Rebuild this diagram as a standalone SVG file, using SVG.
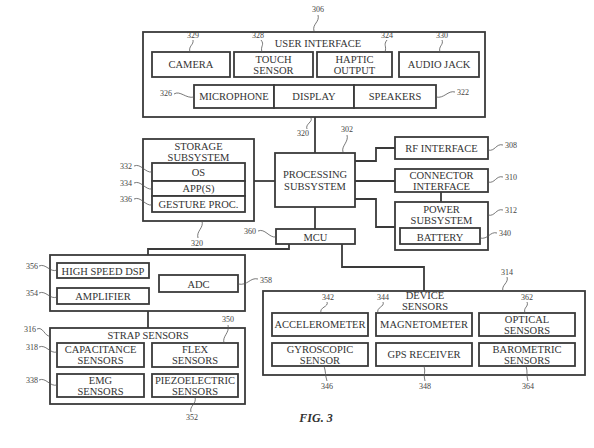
<svg xmlns="http://www.w3.org/2000/svg" width="594" height="448" viewBox="0 0 594 448">
<style>
.b{fill:#fff;stroke:#3a3a3a;stroke-width:1.8}
.c{fill:none;stroke:#3a3a3a;stroke-width:1.8}
.q{fill:none;stroke:#555;stroke-width:0.8}
.t{font-family:"Liberation Serif","Times New Roman",serif;font-size:10.5px;fill:#333;text-anchor:middle}
.n{font-family:"Liberation Serif","Times New Roman",serif;font-size:8px;fill:#444;text-anchor:middle}
.ne{text-anchor:end}
.ns{text-anchor:start}
.f{font-family:"Liberation Serif","Times New Roman",serif;font-size:12px;font-weight:bold;font-style:italic;fill:#333;text-anchor:middle}
</style>
<rect width="594" height="448" fill="#fff"/>
<g id="connectors">
<path class="c" d="M315,117V153"/>
<path class="c" d="M254,181H275"/>
<path class="c" d="M355,161H376V148H395"/>
<path class="c" d="M355,181H395"/>
<path class="c" d="M441,192V202"/>
<path class="c" d="M355,199H376V227H395"/>
<path class="c" d="M315,207V229"/>
<path class="c" d="M289,244V249H148V255"/>
<path class="c" d="M342,244V267H424V291"/>
<path class="c" d="M148,311V328"/>
</g>
<g id="user-interface">
<rect class="b" x="143" y="32" width="342" height="85"/>
<text class="t" x="318" y="47">USER INTERFACE</text>
<g id="camera"><rect class="b" x="152" y="52" width="78" height="25"/><text class="t" x="191" y="68">CAMERA</text></g>
<g id="touch-sensor"><rect class="b" x="234" y="52" width="79" height="25"/><text class="t" x="273.500" y="63">TOUCH</text><text class="t" x="273.500" y="74">SENSOR</text></g>
<g id="haptic-output"><rect class="b" x="317" y="52" width="75" height="25"/><text class="t" x="354.500" y="63">HAPTIC</text><text class="t" x="354.500" y="74">OUTPUT</text></g>
<g id="audio-jack"><rect class="b" x="399" y="52" width="80" height="25"/><text class="t" x="439" y="68">AUDIO JACK</text></g>
<g id="microphone"><rect class="b" x="194" y="85" width="80" height="23"/><text class="t" x="234" y="100">MICROPHONE</text></g>
<g id="display"><rect class="b" x="274" y="85" width="80" height="23"/><text class="t" x="314" y="100">DISPLAY</text></g>
<g id="speakers"><rect class="b" x="354" y="85" width="82" height="23"/><text class="t" x="395" y="100">SPEAKERS</text></g>
</g>
<g id="storage-subsystem">
<rect class="b" x="143" y="139" width="111" height="82"/>
<text class="t" x="198.500" y="150">STORAGE</text>
<text class="t" x="198.500" y="161">SUBSYSTEM</text>
<g id="os"><rect class="b" x="152" y="163" width="93" height="18"/><text class="t" x="198.500" y="176">OS</text></g>
<g id="apps"><rect class="b" x="152" y="181" width="93" height="15"/><text class="t" x="198.500" y="192">APP(S)</text></g>
<g id="gesture-proc"><rect class="b" x="152" y="196" width="93" height="16"/><text class="t" x="198.500" y="208">GESTURE PROC.</text></g>
</g>
<g id="processing-subsystem">
<rect class="b" x="275" y="153" width="80" height="54"/>
<text class="t" x="315" y="178">PROCESSING</text>
<text class="t" x="315" y="190">SUBSYSTEM</text>
</g>
<g id="mcu"><rect class="b" x="276" y="229" width="79" height="15"/><text class="t" x="315.500" y="241">MCU</text></g>
<g id="rf-interface"><rect class="b" x="395" y="137" width="93" height="22"/><text class="t" x="441.500" y="152">RF INTERFACE</text></g>
<g id="connector-interface"><rect class="b" x="395" y="169" width="93" height="23"/><text class="t" x="441.500" y="179">CONNECTOR</text><text class="t" x="441.500" y="190">INTERFACE</text></g>
<g id="power-subsystem">
<rect class="b" x="395" y="202" width="93" height="48"/>
<text class="t" x="441.500" y="213">POWER</text>
<text class="t" x="441.500" y="224">SUBSYSTEM</text>
<g id="battery"><rect class="b" x="400" y="228" width="80" height="16"/><text class="t" x="440" y="241">BATTERY</text></g>
</g>
<g id="signal-processing">
<rect class="b" x="50" y="255" width="195" height="56"/>
<g id="high-speed-dsp"><rect class="b" x="57" y="263" width="92" height="15"/><text class="t" x="103" y="275">HIGH SPEED DSP</text></g>
<g id="amplifier"><rect class="b" x="57" y="288" width="92" height="16"/><text class="t" x="103" y="300">AMPLIFIER</text></g>
<g id="adc"><rect class="b" x="159" y="275" width="79" height="17"/><text class="t" x="198.500" y="288">ADC</text></g>
</g>
<g id="strap-sensors">
<rect class="b" x="50" y="328" width="195" height="76"/>
<text class="t" x="148" y="339">STRAP SENSORS</text>
<g id="capacitance"><rect class="b" x="57" y="343" width="87" height="24"/><text class="t" x="100.500" y="353">CAPACITANCE</text><text class="t" x="100.500" y="364">SENSORS</text></g>
<g id="flex"><rect class="b" x="152" y="343" width="86" height="24"/><text class="t" x="195" y="353">FLEX</text><text class="t" x="195" y="364">SENSORS</text></g>
<g id="emg"><rect class="b" x="57" y="374" width="87" height="23"/><text class="t" x="100.500" y="384">EMG</text><text class="t" x="100.500" y="395">SENSORS</text></g>
<g id="piezo"><rect class="b" x="152" y="374" width="86" height="23"/><text class="t" x="195" y="384">PIEZOELECTRIC</text><text class="t" x="195" y="395">SENSORS</text></g>
</g>
<g id="device-sensors">
<rect class="b" x="263" y="291" width="322" height="84"/>
<text class="t" x="425" y="299">DEVICE</text>
<text class="t" x="425" y="310">SENSORS</text>
<g id="accelerometer"><rect class="b" x="272" y="313" width="96" height="23"/><text class="t" x="320" y="328">ACCELEROMETER</text></g>
<g id="magnetometer"><rect class="b" x="376" y="313" width="96" height="23"/><text class="t" x="424" y="328">MAGNETOMETER</text></g>
<g id="optical"><rect class="b" x="479" y="313" width="96" height="23"/><text class="t" x="527" y="323">OPTICAL</text><text class="t" x="527" y="334">SENSORS</text></g>
<g id="gyroscopic"><rect class="b" x="272" y="343" width="96" height="23"/><text class="t" x="320" y="353">GYROSCOPIC</text><text class="t" x="320" y="364">SENSOR</text></g>
<g id="gps"><rect class="b" x="376" y="343" width="96" height="23"/><text class="t" x="424" y="358">GPS RECEIVER</text></g>
<g id="barometric"><rect class="b" x="479" y="343" width="96" height="23"/><text class="t" x="527" y="353">BAROMETRIC</text><text class="t" x="527" y="364">SENSORS</text></g>
</g>
<g id="labels">
<path class="q" d="M314,31C312,24 320,22 318,15"/><text class="n" x="318" y="12">306</text>
<path class="q" d="M190,52C188,46 194,45 193,40"/><text class="n" x="193" y="38">329</text>
<path class="q" d="M262,52C260,46 265,45 261,40"/><text class="n" x="258" y="38">328</text>
<path class="q" d="M385,52C387,46 383,45 387,40"/><text class="n" x="387" y="38">324</text>
<path class="q" d="M440,52C438,46 444,45 442,40"/><text class="n" x="442" y="38">330</text>
<path class="q" d="M174,94C180,90 186,99 194,97"/><text class="n ne" x="172" y="96">326</text>
<path class="q" d="M436,97C444,99 448,90 455,92"/><text class="n ns" x="457" y="95">322</text>
<path class="q" d="M311,118C313,122 305,124 307,129"/><text class="n" x="303" y="136">320</text>
<path class="q" d="M343,152C341,146 349,142 347,135"/><text class="n" x="347" y="132">302</text>
<path class="q" d="M134,166C141,163 145,173 152,172"/><text class="n ne" x="132" y="169">332</text>
<path class="q" d="M134,183C141,180 145,190 152,189"/><text class="n ne" x="132" y="186">334</text>
<path class="q" d="M134,199C141,196 145,206 152,205"/><text class="n ne" x="132" y="202">336</text>
<path class="q" d="M202,221C204,228 196,231 198,238"/><text class="n" x="197" y="246">320</text>
<path class="q" d="M488,150C495,152 496,143 503,145"/><text class="n ns" x="505" y="148">308</text>
<path class="q" d="M488,182C495,184 496,175 503,177"/><text class="n ns" x="505" y="180">310</text>
<path class="q" d="M488,215C495,217 496,208 503,210"/><text class="n ns" x="505" y="213">312</text>
<path class="q" d="M480,238C488,240 490,231 497,233"/><text class="n ns" x="499" y="236">340</text>
<path class="q" d="M258,231C265,228 269,238 276,237"/><text class="n ne" x="256" y="234">360</text>
<path class="q" d="M39,266C46,263 50,273 57,270"/><text class="n ne" x="38" y="269">356</text>
<path class="q" d="M39,293C46,290 50,300 57,297"/><text class="n ne" x="38" y="296">354</text>
<path class="q" d="M238,284C248,286 250,277 258,279"/><text class="n ns" x="260" y="283">358</text>
<path class="q" d="M37,329C43,326 45,337 50,336"/><text class="n ne" x="36" y="332">316</text>
<path class="q" d="M39,347C46,344 50,354 57,352"/><text class="n ne" x="38" y="350">318</text>
<path class="q" d="M39,380C46,377 50,387 57,385"/><text class="n ne" x="38" y="383">338</text>
<path class="q" d="M224,343C222,336 230,333 228,325"/><text class="n" x="228" y="322">350</text>
<path class="q" d="M195,397C197,404 189,406 191,412"/><text class="n" x="192" y="420">352</text>
<path class="q" d="M503,291C501,285 509,283 507,277"/><text class="n" x="507" y="275">314</text>
<path class="q" d="M321,313C319,307 329,307 327,302"/><text class="n" x="328" y="300">342</text>
<path class="q" d="M378,313C376,307 385,307 383,302"/><text class="n" x="383" y="300">344</text>
<path class="q" d="M525,313C523,307 529,307 527,302"/><text class="n" x="527" y="300">362</text>
<path class="q" d="M324,366C326,372 325,375 327,381"/><text class="n" x="327" y="389">346</text>
<path class="q" d="M424,366C426,372 423,375 425,381"/><text class="n" x="425" y="389">348</text>
<path class="q" d="M526,366C528,372 526,375 528,381"/><text class="n" x="528" y="389">364</text>
</g>
<text class="f" x="316" y="422">FIG. 3</text>
</svg>
